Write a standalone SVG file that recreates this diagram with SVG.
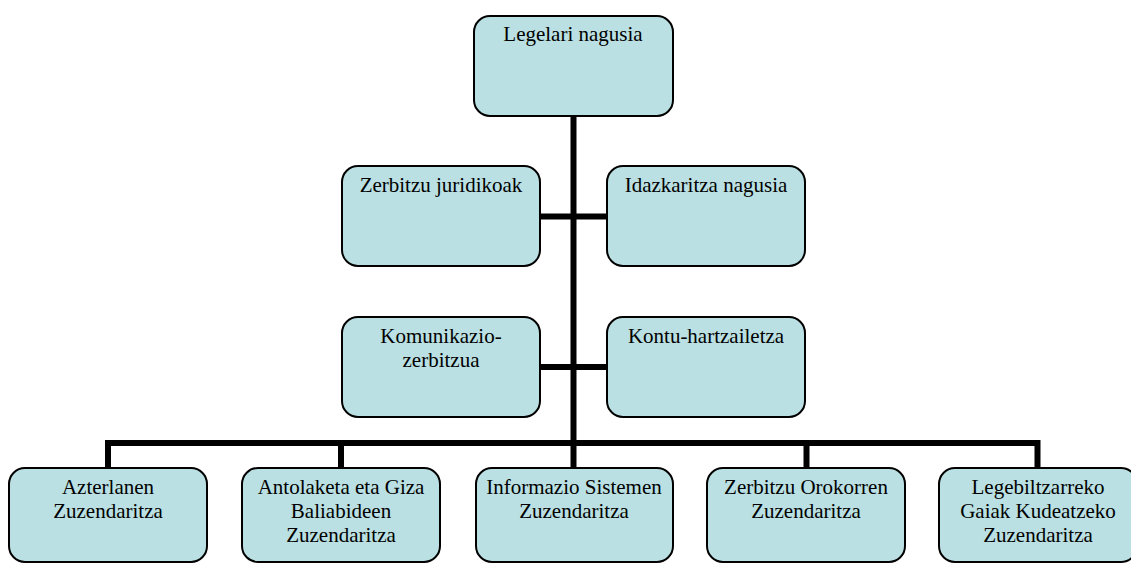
<svg xmlns="http://www.w3.org/2000/svg" width="1131" height="563" viewBox="0 0 1131 563">
<style>
.box{fill:#bae0e3;stroke:#000;stroke-width:2}
.t{font-family:"Liberation Serif","Times New Roman",serif;font-size:21px;fill:#000;text-anchor:middle}
.c{stroke:#000;stroke-width:6;fill:none;stroke-linecap:butt}
</style>
<rect width="1131" height="563" fill="#fff"/>
<g id="connectors">
<line class="c" x1="573.5" y1="116" x2="573.5" y2="446"/>
<line class="c" x1="540" y1="216.5" x2="607" y2="216.5"/>
<line class="c" x1="540" y1="367" x2="607" y2="367"/>
<polyline class="c" points="108,468 108,443 1037.5,443 1037.5,468"/>
<line class="c" x1="341" y1="443" x2="341" y2="468"/>
<line class="c" x1="573.5" y1="443" x2="573.5" y2="468"/>
<line class="c" x1="806.5" y1="443" x2="806.5" y2="468"/>
</g>
<g id="legelari">
<rect class="box" x="474" y="16" width="199" height="100" rx="16"/>
<text class="t" x="573" y="41">Legelari nagusia</text>
</g>
<g id="zerbitzu-juridikoak">
<rect class="box" x="342" y="166" width="198" height="100" rx="16"/>
<text class="t" x="441" y="192">Zerbitzu juridikoak</text>
</g>
<g id="idazkaritza">
<rect class="box" x="607" y="166" width="198" height="100" rx="16"/>
<text class="t" x="706" y="192">Idazkaritza nagusia</text>
</g>
<g id="komunikazio">
<rect class="box" x="342" y="317" width="198" height="100" rx="16"/>
<text class="t" x="441" y="343">Komunikazio-</text>
<text class="t" x="441" y="367">zerbitzua</text>
</g>
<g id="kontu">
<rect class="box" x="607" y="317" width="198" height="100" rx="16"/>
<text class="t" x="706" y="343">Kontu-hartzailetza</text>
</g>
<g id="azterlanen">
<rect class="box" x="9" y="468" width="198" height="94" rx="16"/>
<text class="t" x="108" y="494">Azterlanen</text>
<text class="t" x="108" y="518">Zuzendaritza</text>
</g>
<g id="antolaketa">
<rect class="box" x="242" y="468" width="198" height="94" rx="16"/>
<text class="t" x="341" y="494">Antolaketa eta Giza</text>
<text class="t" x="341" y="518">Baliabideen</text>
<text class="t" x="341" y="542">Zuzendaritza</text>
</g>
<g id="informazio">
<rect class="box" x="476" y="468" width="197" height="94" rx="16"/>
<text class="t" x="574" y="494">Informazio Sistemen</text>
<text class="t" x="574" y="518">Zuzendaritza</text>
</g>
<g id="zerbitzu-orokorren">
<rect class="box" x="707" y="468" width="198" height="94" rx="16"/>
<text class="t" x="806" y="494">Zerbitzu Orokorren</text>
<text class="t" x="806" y="518">Zuzendaritza</text>
</g>
<g id="legebiltzarreko">
<rect class="box" x="939" y="468" width="198" height="94" rx="16"/>
<text class="t" x="1038" y="494">Legebiltzarreko</text>
<text class="t" x="1038" y="518">Gaiak Kudeatzeko</text>
<text class="t" x="1038" y="542">Zuzendaritza</text>
</g>
</svg>
